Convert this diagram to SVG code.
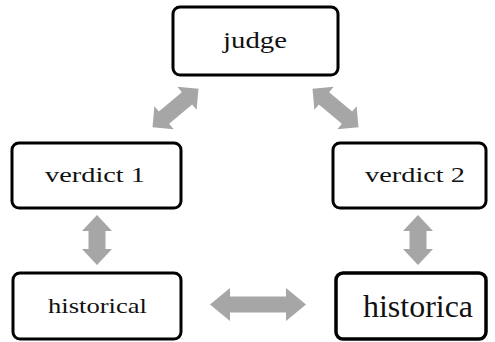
<svg xmlns="http://www.w3.org/2000/svg" width="495" height="342" viewBox="0 0 495 342">
<defs>
<style>
.box{fill:#fff;stroke:#000;stroke-width:3}
.lbl{font-family:"Liberation Serif","Times New Roman",serif;fill:#111}
.arr{fill:#a6a6a6}
</style>
<polygon id="darr" points="-25,0 -9,-15 -9,-8.5 9,-8.5 9,-15 25,0 9,15 9,8.5 -9,8.5 -9,15"/>
</defs>
<rect width="495" height="342" fill="#fff"/>
<g id="connectors" class="arr">
<polygon transform="translate(175.5,108) rotate(-40)" points="-30,0 -15,-15 -15,-8 15,-8 15,-15 30,0 15,15 15,8 -15,8 -15,15"/>
<polygon transform="translate(335.5,108) rotate(40)" points="-30,0 -15,-15 -15,-8 15,-8 15,-15 30,0 15,15 15,8 -15,8 -15,15"/>
<use href="#darr" transform="translate(97,240) rotate(90)"/>
<use href="#darr" transform="translate(418,240) rotate(90)"/>
<polygon transform="translate(258,304.5)" points="-48,0 -28,-16.5 -28,-8 28,-8 28,-16.5 48,0 28,16.5 28,8 -28,8 -28,16.5"/>
</g>
<g id="judge">
<rect class="box" x="173" y="7" width="165" height="68" rx="7"/>
<text class="lbl" x="223" y="48" font-size="23" textLength="64" lengthAdjust="spacingAndGlyphs">judge</text>
</g>
<g id="verdict1">
<rect class="box" x="12" y="143" width="169" height="65" rx="7"/>
<text class="lbl" x="45" y="182" font-size="22" textLength="100" lengthAdjust="spacingAndGlyphs">verdict 1</text>
</g>
<g id="verdict2">
<rect class="box" x="333" y="143" width="153" height="65" rx="7"/>
<text class="lbl" x="365" y="182" font-size="22" textLength="100" lengthAdjust="spacingAndGlyphs">verdict 2</text>
</g>
<g id="historical">
<rect class="box" x="13" y="273" width="168" height="66" rx="7"/>
<text class="lbl" x="48" y="313" font-size="22" textLength="99" lengthAdjust="spacingAndGlyphs">historical</text>
</g>
<g id="historica">
<rect class="box" x="336" y="273" width="150" height="66" rx="7" style="stroke-width:3.5"/>
<text x="363" y="317" font-size="32" class="lbl" textLength="110" lengthAdjust="spacingAndGlyphs">historica</text>
</g>
</svg>
